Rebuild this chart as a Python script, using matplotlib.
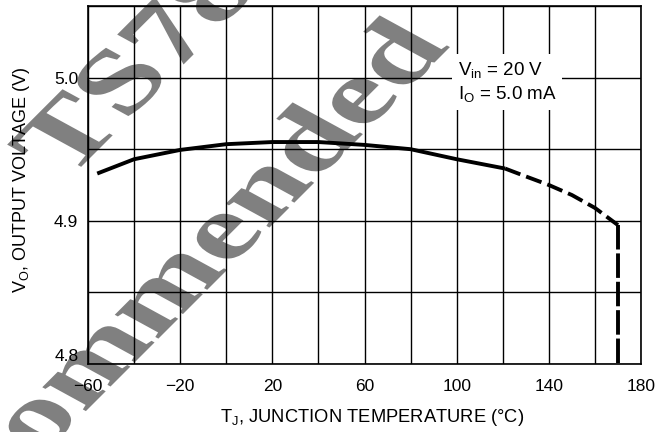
import numpy as np
import matplotlib
matplotlib.use("Agg")
import matplotlib.pyplot as plt
from matplotlib.textpath import TextPath
from matplotlib.patches import PathPatch
from matplotlib.transforms import Affine2D, IdentityTransform
from matplotlib.font_manager import FontProperties
from matplotlib.ticker import MultipleLocator, FixedLocator

plt.rcParams['font.family'] = ['Liberation Sans Narrow', 'Liberation Sans', 'DejaVu Sans']
plt.rcParams['mathtext.fontset'] = 'custom'
plt.rcParams['mathtext.rm'] = 'Liberation Sans'
plt.rcParams['mathtext.it'] = 'Liberation Sans'
plt.rcParams['mathtext.default'] = 'regular'

# curve
temp_solid = [-56, -40, -20, 0, 20, 40, 60, 80, 100, 121]
vout_solid = [4.933, 4.943, 4.9495, 4.9535, 4.955, 4.955, 4.953, 4.950, 4.943, 4.9365]
temp_dash = [121, 130, 140, 150, 160, 165, 170]
vout_dash = [4.9365, 4.931, 4.925, 4.918, 4.909, 4.903, 4.897]
temp_drop = [170, 170]
vout_drop = [4.897, 4.80]

x_ticks = [-60, -20, 20, 60, 100, 140, 180]
y_ticks = [4.8, 4.9, 5.0]

fig = plt.figure(figsize=(6.71, 4.32), dpi=100)
ax = fig.add_axes([88/671, 1-364/432, 553/671, 358/432])
ax.set_facecolor('none')

# watermark, sheared gray serif text behind the grid
wm_font = FontProperties(family='Liberation Serif', weight='bold')
def watermark(s, px, py):
    tp = TextPath((0, 0), s, size=1, prop=wm_font)
    tr = Affine2D(np.array([[87.0, -95.0, px], [87.0, 52.0, py], [0, 0, 1]]))
    p = PathPatch(tr.transform_path(tp), fc='#808080', ec='none',
                  transform=IdentityTransform(), zorder=-1)
    fig.add_artist(p)

watermark("TS7805", 68, 252)
watermark("Recommended", -100, -165)

ax.plot(temp_solid, vout_solid, color='black', lw=2.8, solid_capstyle='butt', zorder=2)
ax.plot(temp_dash, vout_dash, color='black', lw=2.8, linestyle=(0, (4.2, 1.6)), zorder=2)
ax.plot(temp_drop, vout_drop, color='black', lw=2.8, linestyle=(0, (6.3, 1.0)), zorder=2)

ax.set_xlim(-60, 180)
ax.set_ylim(4.8, 5.05)
ax.xaxis.set_major_locator(FixedLocator(x_ticks))
ax.xaxis.set_minor_locator(MultipleLocator(20))
ax.yaxis.set_major_locator(FixedLocator(y_ticks))
ax.yaxis.set_minor_locator(MultipleLocator(0.05))
ax.set_xticklabels([str(v).replace('-', '\u2212') for v in x_ticks])
ax.set_yticklabels(['4.8', '4.9', '5.0'])
ax.tick_params(which='both', length=0, labelsize=12.5, colors='black')
ax.tick_params(axis='x', pad=11)
ax.tick_params(axis='y', pad=7)
ax.grid(which='both', color='black', lw=1.0)
ax.set_axisbelow(True)
for s in ax.spines.values():
    s.set_linewidth(1.2)
ax.get_yticklabels()[0].set_va('bottom')

ax.text(100.5, 4.997, 'V$_{in}$ = 20 V\nI$_{O}$ = 5.0 mA', fontsize=13.5, va='center', ha='left',
        linespacing=1.3, bbox=dict(fc='white', ec='none', pad=4), zorder=3)

fig.text(372/671, 1-417/432, 'T$_{J}$, JUNCTION TEMPERATURE (\u00b0C)', fontsize=13.2,
         ha='center', va='center')
fig.text(22/671, 1-180/432, 'V$_{O}$, OUTPUT VOLTAGE (V)', fontsize=13,
         rotation=90, ha='center', va='center')

fig.savefig('out.png', dpi=100)
